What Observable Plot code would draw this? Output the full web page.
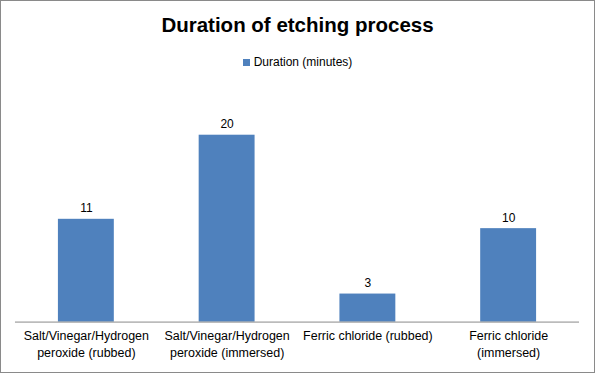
<!DOCTYPE html>
<html><head><meta charset="utf-8">
<script src="https://cdn.jsdelivr.net/npm/d3@7"></script>
<script src="https://cdn.jsdelivr.net/npm/@observablehq/plot@0.6"></script>
<style>
body{margin:0;background:#fff;}
#wrap{position:relative;width:595px;height:373px;box-sizing:border-box;border:1px solid #8a8a8a;background:#fff;font-family:"Liberation Sans",Arial,sans-serif;overflow:hidden;}
#title{position:absolute;left:0;right:0;top:12px;text-align:center;font-size:20.5px;font-weight:bold;color:#000;}
#legend{position:absolute;left:0;right:0;top:54px;text-align:center;font-size:12px;color:#000;}
#legend span.sw{display:inline-block;width:7px;height:7px;background:#4F81BD;margin-right:4px;vertical-align:0px;}
#chart{position:absolute;left:-1px;top:79px;}
</style></head>
<body>
<div id="wrap">
<div id="title">Duration of etching process</div>
<div id="legend"><span class="sw"></span>Duration (minutes)</div>
<div id="chart"></div>
</div>
<script>
const categories = ["Salt/Vinegar/Hydrogen\nperoxide (rubbed)", "Salt/Vinegar/Hydrogen\nperoxide (immersed)", "Ferric chloride (rubbed)", "Ferric chloride\n(immersed)"];
const durations = [11, 20, 3, 10];
const seriesName = "Duration (minutes)";
const data = categories.map((c, i) => ({category: c, value: durations[i]}));

const plot = Plot.plot({
  width: 595,
  height: 293,
  marginLeft: 15,
  marginRight: 15,
  marginTop: 8,
  marginBottom: 51,
  style: {fontFamily: "'Liberation Sans', Arial, sans-serif", fontSize: "12px", color: "#000", background: "transparent"},
  x: {domain: categories, paddingInner: 0.6, paddingOuter: 0.3, label: null},
  y: {domain: [0, 25], axis: null},
  marks: [
    Plot.barY(data, {x: "category", y: "value", fill: "#4F81BD"}),
    Plot.ruleY([0], {stroke: "#8a8a8a", strokeWidth: 1}),
    Plot.text(data, {x: "category", y: "value", text: d => String(d.value), lineAnchor: "bottom", dy: -7, fontSize: 12, fill: "#000"}),
    Plot.axisX({tickSize: 0, tickPadding: 6, fontSize: 12.5, lineHeight: 1.36, label: null, fill: "#000"})
  ]
});
document.getElementById("chart").appendChild(plot);
</script>
</body></html>
